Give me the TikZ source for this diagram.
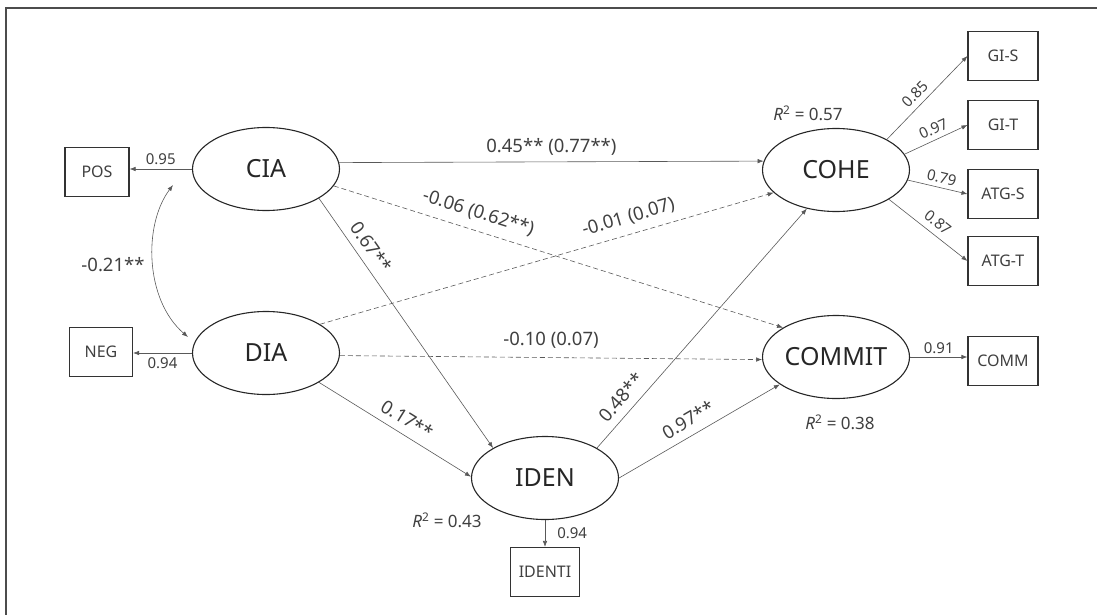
\documentclass[tikz,border=0pt]{standalone}
\usepackage{fontspec}
\setmainfont{Noto Sans}
\usetikzlibrary{shapes.geometric,arrows.meta}
\begin{document}
\begin{tikzpicture}[x=1pt,y=-1pt,
  lat/.style={ellipse,draw=black!85,line width=1.1pt,minimum width=147pt,minimum height=83pt,inner sep=0pt,font=\fontsize{25}{25}\selectfont,text=black!85},
  obs/.style={rectangle,draw=black!80,line width=1.1pt,minimum height=49pt,inner sep=0pt,font=\fontsize{16}{16}\selectfont,text=black!75},
  arr/.style={draw=black!65,line width=0.6pt,-{Latex[length=6pt,width=4.5pt]}},
  dsh/.style={arr,dash pattern=on 5pt off 3pt},
  lbl/.style={font=\fontsize{18.5}{18.5}\selectfont,text=black!75,inner sep=1pt},
  sml/.style={font=\fontsize{15}{15}\selectfont,text=black!75,inner sep=1pt},
  rsq/.style={font=\fontsize{17}{17}\selectfont,text=black!75,inner sep=1pt}
]
\useasboundingbox (0,0) rectangle (1097,615);
\draw[black!70,line width=1.5pt] (6,615) -- (6,8) -- (1097,8);

% latent variables
\node[lat] (cia) at (266,169) {CIA};
\node[lat] (dia) at (266,353) {DIA};
\node[lat] (iden) at (545,478) {IDEN};
\node[lat] (cohe) at (836,170) {COHE};
\node[lat] (commit) at (836,357) {COMMIT};

% observed
\node[obs,minimum width=64pt] (pos) at (97,172) {POS};
\node[obs,minimum width=63pt] (neg) at (101,352) {NEG};
\node[obs,minimum width=69pt] (identi) at (545,572) {IDENTI};
\node[obs,minimum width=70pt] (gis) at (1003,56) {GI-S};
\node[obs,minimum width=70pt] (git) at (1003,125) {GI-T};
\node[obs,minimum width=70pt] (atgs) at (1003,194) {ATG-S};
\node[obs,minimum width=70pt] (atgt) at (1003,261) {ATG-T};
\node[obs,minimum width=70pt] (comm) at (1003,361) {COMM};

% R squared
\node[rsq] (r1) at (808,113) {\textit{R}\textsuperscript{2} = 0.57};
\node[rsq] (r2) at (840,422) {\textit{R}\textsuperscript{2} = 0.38};
\node[rsq] (r3) at (447,520) {\textit{R}\textsuperscript{2} = 0.43};

% measurement paths
\draw[arr] (cia.west) -- (cia.west -| pos.east) node[sml,midway,above=3pt] {0.95};
\draw[arr] (dia.west) -- (dia.west -| neg.east) node[sml,midway,below=3pt] {0.94};
\draw[arr] (iden.south) -- (identi.north) node[sml,midway,right=11pt] {0.94};
\draw[arr] (commit.east) -- (commit.east -| comm.west) node[sml,midway,above=2pt] {0.91};
\draw[arr] (cohe.31) -- (gis.west) node[sml,pos=0.45,sloped,above=4pt] {0.85};
\draw[arr] (cohe.13.6) -- (git.west) node[sml,pos=0.53,sloped,above=4pt] {0.97};
\draw[arr] (cohe.-8.7) -- (atgs.west) node[sml,pos=0.53,sloped,above=3.5pt] {0.79};
\draw[arr] (cohe.-29.5) -- (atgt.west) node[sml,pos=0.53,sloped,above=5.5pt] {0.87};

% structural paths
\draw[arr] (cia.5.5) -- (cohe.173.6) node[lbl,midway,above=5pt] {0.45** (0.77**)};
\draw[dsh] (cia.-14.6) -- (commit.151.3) node[lbl,pos=0.31,sloped,above=8pt] {-0.06 (0.62**)};
\draw[dsh] (dia.28.2) -- (cohe.-160.8) node[lbl,pos=0.69,sloped,above=7pt] {-0.01 (0.07)};
\draw[dsh] (dia.-2) -- (commit.182) node[lbl,midway,above=8pt] {-0.10 (0.07)};
\draw[arr] (cia.-29.9) -- (iden.150.5) node[lbl,pos=0.23,sloped,above=7pt] {0.67**};
\draw[arr] (dia.-29) -- (iden.179) node[lbl,pos=0.53,sloped,above=7pt] {0.17**};
\draw[arr] (iden.30.3) -- (cohe.-127.8) node[lbl,pos=0.17,sloped,above=7pt] {0.48**};
\draw[arr] (iden.0) -- (commit.206.2) node[lbl,pos=0.48,sloped,above=7pt] {0.97**};

% covariance
\coordinate (ca) at (173,185);
\coordinate (da) at (188,337);
\draw[draw=black!65,line width=0.6pt,{Latex[length=6pt,width=4.5pt]}-{Latex[length=6pt,width=4.5pt]}] (ca) .. controls (143,225) and (145,300) .. (da);
\node[lbl] (cov) at (113,265) {-0.21**};
\end{tikzpicture}
\end{document}
